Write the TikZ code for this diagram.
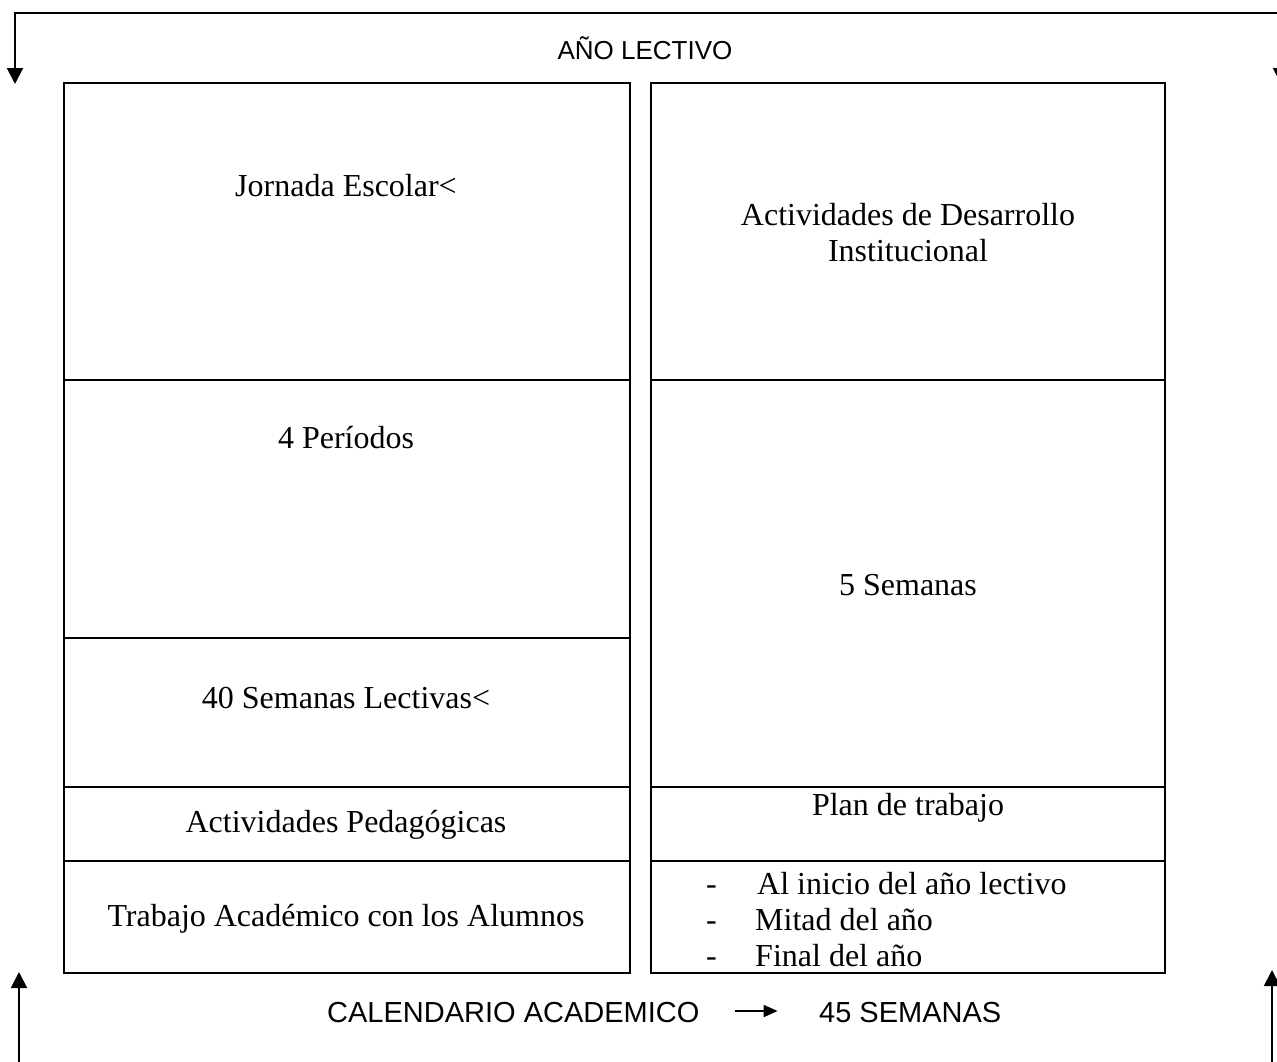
\documentclass[tikz,border=0pt]{standalone}
\usepackage{fontspec}
\setmainfont{Liberation Serif}
\newfontfamily\arialfont{Liberation Sans}
\usetikzlibrary{arrows.meta}
\begin{document}
\begin{tikzpicture}[x=1pt,y=-1pt,
  cell/.style={draw, line width=2.8pt, inner sep=0pt, outer sep=0pt, rectangle},
  txt/.style={font=\fontsize{32}{36}\selectfont, inner sep=0pt, align=center},
  stxt/.style={font=\arialfont\fontsize{26}{30}\selectfont, inner sep=0pt},
  btxt/.style={font=\arialfont\fontsize{29}{34}\selectfont, inner sep=0pt},
  conn/.style={line width=2pt, -{Triangle[width=16pt,length=16pt]}}]
\clip (0,0) rectangle (1277,1061);
\useasboundingbox (0,0) rectangle (1277,1061);
% left column cells
\node[cell, minimum width=566pt, minimum height=297pt] (L1) at (347,231.5) {};
\node[cell, minimum width=566pt, minimum height=258pt] (L2) at (347,509) {};
\node[cell, minimum width=566pt, minimum height=149pt] (L3) at (347,712.5) {};
\node[cell, minimum width=566pt, minimum height=74pt] (L4) at (347,824) {};
\node[cell, minimum width=566pt, minimum height=112pt] (L5) at (347,917) {};
% right column cells
\node[cell, minimum width=514pt, minimum height=297pt] (R1) at (908,231.5) {};
\node[cell, minimum width=514pt, minimum height=407pt] (R2) at (908,583.5) {};
\node[cell, minimum width=514pt, minimum height=74pt] (R3) at (908,824) {};
\node[cell, minimum width=514pt, minimum height=112pt] (R4) at (908,917) {};
% texts
\node[txt] (t1) at (346,186) {Jornada Escolar<};
\node[txt] (t2) at (908,233) {Actividades de Desarrollo\\Institucional};
\node[txt] (t3) at (346,438) {4 Períodos};
\node[txt] (t4) at (908,585) {5 Semanas};
\node[txt] (t5) at (346,698) {40 Semanas Lectivas<};
\node[txt] (t6) at (346,825) {Actividades Pedagógicas};
\node[txt] (t7) at (908,808) {Plan de trabajo};
\node[txt] (t8) at (346,919) {Trabajo Académico con los Alumnos};
\node[txt, anchor=base west] (d1) at (706,894) {-};
\node[txt, anchor=base west] (d2) at (706,930) {-};
\node[txt, anchor=base west] (d3) at (706,966) {-};
\node[txt, anchor=base west] (i1) at (757,894) {Al inicio del año lectivo};
\node[txt, anchor=base west] (i2) at (755,930) {Mitad del año};
\node[txt, anchor=base west] (i3) at (755,966) {Final del año};
% sans texts
\node[stxt] (top) at (645,48) {AÑO LECTIVO};
\node[btxt, anchor=west] (cal) at (327,1013) {CALENDARIO ACADEMICO};
\node[btxt, anchor=west] (sem) at (819,1013) {45 SEMANAS};
\draw[line width=1.8pt, -{Triangle[width=12pt,length=14pt]}] (cal.east) ++(35,-2) coordinate (a0) -- ++(43,0) coordinate (a1);
% frame arrows
\coordinate (tl) at (15,13);
\coordinate (tr) at (1281,13);
\coordinate (tlEnd) at (15,84);
\coordinate (trEnd) at (1281,84);
\draw[conn] (tr) -- (tl) -- (tlEnd);
\draw[conn] (tr) -- (trEnd);
\coordinate (bl) at (19,1070);
\coordinate (blEnd) at (19,972);
\coordinate (br) at (1272,1070);
\coordinate (brEnd) at (1272,970);
\draw[conn] (bl) -- (blEnd);
\draw[conn] (br) -- (brEnd);
\end{tikzpicture}
\end{document}
